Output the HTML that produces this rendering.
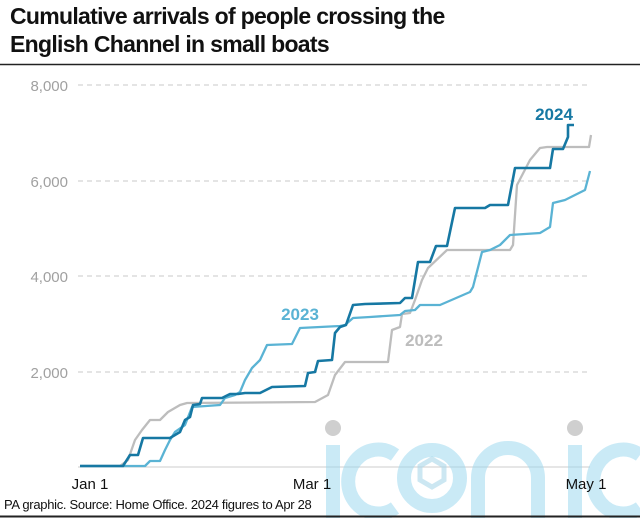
<!DOCTYPE html>
<html><head><meta charset="utf-8"><style>
body{margin:0;background:#fff;width:640px;height:518px;overflow:hidden;font-family:"Liberation Sans",sans-serif}
</style></head><body>
<svg width="640" height="518" viewBox="0 0 640 518" xmlns="http://www.w3.org/2000/svg" font-family="Liberation Sans, sans-serif">
<text x="10" y="24" font-size="23" font-weight="bold" fill="#111" letter-spacing="-0.7">Cumulative arrivals of people crossing the</text>
<text x="10" y="52" font-size="23" font-weight="bold" fill="#111" letter-spacing="-0.7">English Channel in small boats</text>
<line x1="0" y1="64.5" x2="640" y2="64.5" stroke="#222" stroke-width="1.5"/>
<g stroke="#c8c8c8" stroke-width="1" stroke-dasharray="5,4">
<line x1="78" y1="85" x2="590" y2="85"/><line x1="78" y1="181" x2="590" y2="181"/>
<line x1="78" y1="276" x2="590" y2="276"/><line x1="78" y1="372" x2="590" y2="372"/>
</g>
<line x1="78" y1="467" x2="590" y2="467" stroke="#ccc"/>
<g opacity="0.55" fill="none" stroke="#9fd9f0" stroke-width="14">
<line x1="333" y1="445" x2="333" y2="518"/>
<path d="M395,455 A30,32 0 1 0 395,508"/>
<circle cx="432" cy="478" r="28"/>
<path d="M478,518 V478 A30,30 0 0 1 538,478 V518"/>
<line x1="575" y1="445" x2="575" y2="518"/>
<path d="M640,455 A30,32 0 1 0 640,508"/>
</g>
<polygon points="420,466 432,459 444,466 444,480 432,487 420,480" fill="none" stroke="#aad7ea" stroke-width="5" opacity="0.6"/>
<circle cx="333" cy="428" r="8" fill="#cfcfcf"/><circle cx="575" cy="428" r="8" fill="#cfcfcf"/>
<g font-size="15" fill="#a0a0a0" text-anchor="end">
<text x="68" y="91">8,000</text><text x="68" y="187">6,000</text><text x="68" y="282">4,000</text><text x="68" y="378">2,000</text>
</g>
<g font-size="15" fill="#111" text-anchor="middle">
<text x="90" y="489">Jan 1</text><text x="312" y="489">Mar 1</text><text x="586" y="489">May 1</text>
</g>
<g fill="none" stroke-width="2.3" stroke-linejoin="round">
<polyline stroke="#bdbdbd" points="80,466 120,466 128,460 135,440 142,430 150,420 160,420 168,412 180,405 187,403 315,402 328,395 335,375 345,362 388,362 392,330 400,327 402,314 410,313 415,300 422,280 428,268 447,250 510,250 513,245 517,185 530,160 540,148 547,147 589,147 591,135"/>
<polyline stroke="#5ab3d4" points="80,466 145,466 150,461 160,461 165,450 170,440 175,432 185,425 192,407 220,405 225,398 235,395 240,392 245,380 252,368 260,360 267,345 292,344 300,328 340,326 345,325 353,318 370,317 400,315 405,311 415,310 420,305 440,305 470,292 473,287 482,252 490,250 500,245 510,235 540,233 550,227 553,203 565,200 575,195 585,190 590,171"/>
<polyline stroke="#1678a3" stroke-width="2.6" points="80,466 123,466 130,455 138,455 143,438 170,438 180,432 185,420 190,417 193,405 200,404 202,398 222,398 230,394 238,394 245,393 260,393 272,387 305,386 308,373 315,372 318,361 332,360 335,333 340,327 346,325 353,305 365,304 400,303 405,298 412,298 418,262 430,262 436,246 447,246 455,208 485,208 490,205 508,205 515,168 550,168 553,149 563,149 568,137 568,125 574,125"/>
</g>
<text x="554" y="120" font-size="17" font-weight="bold" fill="#1678a3" text-anchor="middle">2024</text>
<text x="300" y="320" font-size="17" font-weight="bold" fill="#5ab3d4" text-anchor="middle">2023</text>
<text x="424" y="346" font-size="17" font-weight="bold" fill="#bdbdbd" text-anchor="middle">2022</text>
<text x="4" y="509" font-size="13" fill="#111" letter-spacing="-0.3">PA graphic. Source: Home Office. 2024 figures to Apr 28</text>
<line x1="0" y1="516.5" x2="640" y2="516.5" stroke="#222" stroke-width="2"/>
</svg>
</body></html>
